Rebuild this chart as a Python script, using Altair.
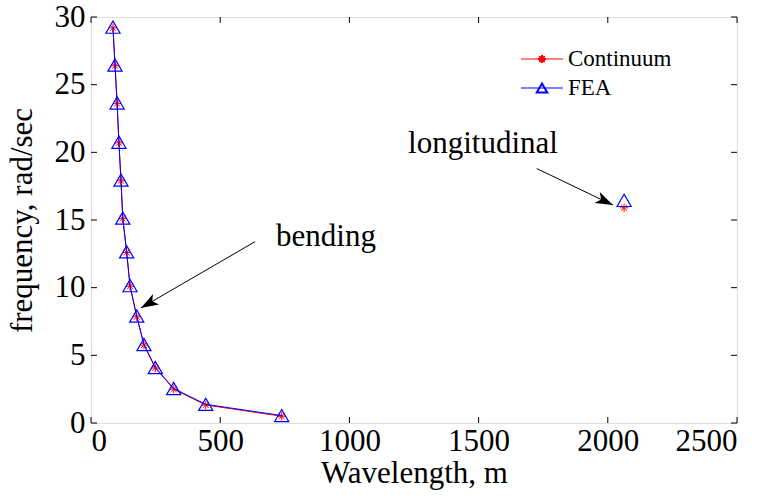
import math
import altair as alt
import pandas as pd

# ---- data ----
bend_wavelength = [85, 93, 101, 108, 116, 123, 138, 151, 177, 205, 249, 320, 444, 738]
bend_continuum = [29.2, 26.4, 23.6, 20.7, 17.9, 15.1, 12.6, 10.1, 7.85, 5.76, 4.06, 2.5, 1.33, 0.5]
bend_fea = [29.25, 26.45, 23.65, 20.75, 17.95, 15.15, 12.65, 10.15, 7.9, 5.8, 4.1, 2.55, 1.38, 0.55]
long_wavelength = [2063]
long_continuum = [15.9]
long_fea = [16.45]

x_ticks = [0, 500, 1000, 1500, 2000, 2500]
y_ticks = [0, 5, 10, 15, 20, 25, 30]

ann_text = ["bending", "longitudinal"]
ann_text_x = [716, 1227]
ann_text_y = [13.75, 20.6]
arrow_x0 = [635, 1725]
arrow_y0 = [13.4, 18.8]
arrow_x1 = [193, 2020]
arrow_y1 = [8.5, 16.1]

legend_labels = ["Continuum", "FEA"]

# ---- layout ----
W, H = 646, 406
FONT = "Liberation Serif"
XMAX, YMAX = 2500, 30
STAR = "M-1,0L1,0M0,-1L0,1M-0.7,-0.7L0.7,0.7M-0.7,0.7L0.7,-0.7"
HEAD = "M0,0L0.55,1.6L0,1.2L-0.55,1.6Z"

rows = []
for w, c, f in zip(bend_wavelength, bend_continuum, bend_fea):
    rows.append(dict(wl=w, cont=c, fea=f, branch="bending"))
for w, c, f in zip(long_wavelength, long_continuum, long_fea):
    rows.append(dict(wl=w, cont=c, fea=f, branch="longitudinal"))
df = pd.DataFrame(rows)

xs = alt.Scale(domain=[0, XMAX], nice=False, zero=False)
ys = alt.Scale(domain=[0, YMAX], nice=False, zero=False)

xaxis = alt.Axis(values=x_ticks, ticks=False, domain=False, grid=False, format="d",
                 labelFont=FONT, labelFontSize=31, labelColor="black", labelPadding=3,
                 title="Wavelength, m", titleFont=FONT, titleFontSize=31,
                 titleFontWeight="normal", titleColor="black", titlePadding=2)
yaxis = alt.Axis(values=y_ticks, ticks=False, domain=False, grid=False, format="d",
                 labelFont=FONT, labelFontSize=31, labelColor="black", labelPadding=6,
                 title="frequency, rad/sec", titleFont=FONT, titleFontSize=31,
                 titleFontWeight="normal", titleColor="black", titlePadding=16)

base = alt.Chart(df)

cont_line = base.mark_line(color="red", strokeWidth=1).encode(
    x=alt.X("wl:Q", scale=xs, axis=xaxis),
    y=alt.Y("cont:Q", scale=ys, axis=yaxis),
    detail="branch:N",
)
cont_pts = base.mark_point(shape=STAR, size=72, color="red", filled=False,
                           strokeWidth=1, opacity=1).encode(
    x=alt.X("wl:Q", scale=xs), y=alt.Y("cont:Q", scale=ys))
fea_line = base.mark_line(color="blue", strokeWidth=1).encode(
    x=alt.X("wl:Q", scale=xs), y=alt.Y("fea:Q", scale=ys), detail="branch:N")
fea_pts = base.mark_point(shape="triangle-up", size=200, color="blue", filled=False,
                          strokeWidth=1.2, opacity=1).encode(
    x=alt.X("wl:Q", scale=xs), y=alt.Y("fea:Q", scale=ys))

# inward ticks on all four sides
xt = alt.Chart(pd.DataFrame({"v": x_ticks}))
yt = alt.Chart(pd.DataFrame({"v": y_ticks}))
tick_layers = [
    xt.mark_rule(color="black", strokeWidth=1).encode(
        x=alt.X("v:Q", scale=xs), y=alt.value(H), y2=alt.value(H - 6)),
    xt.mark_rule(color="black", strokeWidth=1).encode(
        x=alt.X("v:Q", scale=xs), y=alt.value(0), y2=alt.value(6)),
    yt.mark_rule(color="black", strokeWidth=1).encode(
        y=alt.Y("v:Q", scale=ys), x=alt.value(0), x2=alt.value(6)),
    yt.mark_rule(color="black", strokeWidth=1).encode(
        y=alt.Y("v:Q", scale=ys), x=alt.value(W), x2=alt.value(W - 6)),
]

# annotations
kx, ky = W / XMAX, H / YMAX
angles = []
for x0, y0, x1, y1 in zip(arrow_x0, arrow_y0, arrow_x1, arrow_y1):
    dx = (x1 - x0) * kx
    dy = -(y1 - y0) * ky
    angles.append(math.degrees(math.atan2(dx, -dy)) % 360)
adf = pd.DataFrame(dict(text=ann_text, tx=ann_text_x, ty=ann_text_y,
                        x0=arrow_x0, y0=arrow_y0, x1=arrow_x1, y1=arrow_y1, ang=angles))
ann = alt.Chart(adf)
arrow_lines = ann.mark_rule(color="black", strokeWidth=1).encode(
    x=alt.X("x0:Q", scale=xs), y=alt.Y("y0:Q", scale=ys), x2="x1:Q", y2="y1:Q")
arrow_heads = ann.mark_point(shape=HEAD, size=480, filled=True, color="black",
                             opacity=1, strokeWidth=0).encode(
    x=alt.X("x1:Q", scale=xs), y=alt.Y("y1:Q", scale=ys), angle=alt.Angle("ang:Q", scale=None))
ann_text_layer = ann.mark_text(font=FONT, fontSize=31, align="left", baseline="middle",
                               color="black").encode(
    x=alt.X("tx:Q", scale=xs), y=alt.Y("ty:Q", scale=ys), text="text:N")

# manual legend (top-right, no box)
lg = alt.Chart(pd.DataFrame({"label": legend_labels}))
legend_layers = [
    lg.transform_filter(alt.datum.label == "Continuum").mark_rule(color="red", strokeWidth=1).encode(
        x=alt.value(430), x2=alt.value(472), y=alt.value(42)),
    lg.transform_filter(alt.datum.label == "Continuum").mark_point(
        shape=STAR, size=64, color="red", filled=False, opacity=1).encode(
        x=alt.value(451), y=alt.value(42)),
    lg.transform_filter(alt.datum.label == "FEA").mark_rule(color="blue", strokeWidth=1).encode(
        x=alt.value(430), x2=alt.value(472), y=alt.value(71)),
    lg.transform_filter(alt.datum.label == "FEA").mark_point(
        shape="triangle-up", size=110, color="blue", filled=False, opacity=1).encode(
        x=alt.value(451), y=alt.value(71)),
    lg.transform_filter(alt.datum.label == "Continuum").mark_text(
        font=FONT, fontSize=23, align="left", baseline="middle", color="black").encode(
        x=alt.value(477), y=alt.value(42), text="label:N"),
    lg.transform_filter(alt.datum.label == "FEA").mark_text(
        font=FONT, fontSize=23, align="left", baseline="middle", color="black").encode(
        x=alt.value(477), y=alt.value(71), text="label:N"),
]

chart = alt.layer(
    cont_line, cont_pts, fea_line, fea_pts,
    *tick_layers, arrow_lines, arrow_heads, ann_text_layer, *legend_layers,
).properties(
    width=W, height=H,
    autosize=alt.AutoSizeParams(type="none"),
    padding={"left": 91, "top": 17, "right": 35, "bottom": 76},
).configure_view(
    stroke="black", strokeWidth=1
).configure(
    background="white"
)

chart.save("out.html", embed_options={"renderer": "svg", "actions": False})
